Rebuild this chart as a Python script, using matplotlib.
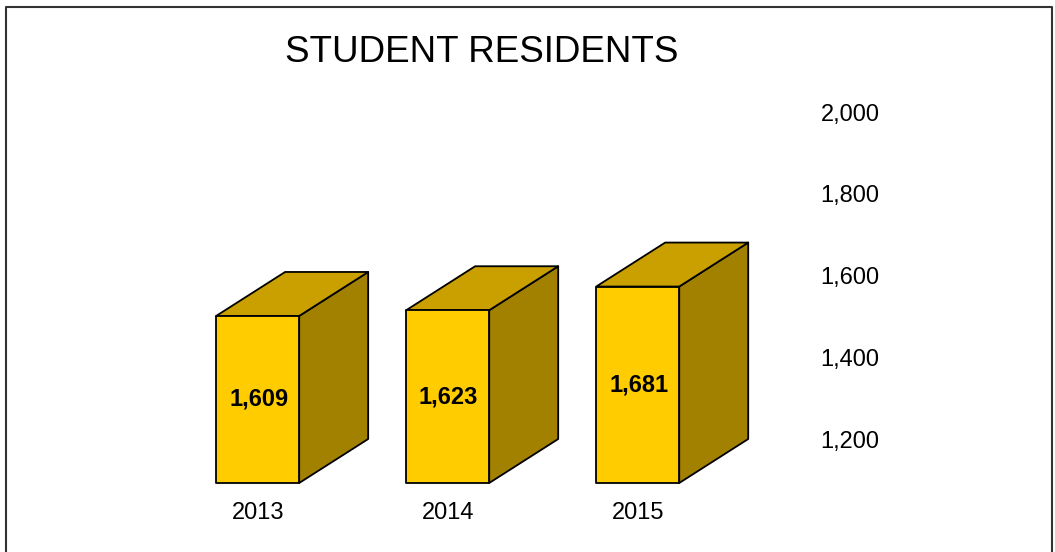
import matplotlib
matplotlib.use("Agg")
import matplotlib.pyplot as plt
from matplotlib.patches import Polygon
from matplotlib.lines import Line2D

plt.rcParams['font.family'] = ['Liberation Sans', 'DejaVu Sans']

#Chart values
years = ['2013', '2014', '2015']
residents = [1609, 1623, 1681]
tick_vals = [1200, 1400, 1600, 1800, 2000]
base = 1200

#Look of the 3D boxes
front_col = '#FFCC00'
top_col = '#C9A000'
side_col = '#A38100'
bar_w = 0.437          # width of the front face (category units)
depth_x = 0.363        # sideways shift of the back face
depth_y = 107.7        # upward shift of the back face (value units)

fig = plt.figure(figsize=(10.55, 5.52), dpi=100)
ax = fig.add_axes([0, 1 - 483/552, 815/1055, 483/552])
ax.set_xlim(-1.356, 2.933)
ax.set_ylim(base - depth_y, 2274.9)

for i, v in enumerate(residents):
    x0 = i - bar_w/2
    x1 = i + bar_w/2
    y0 = base - depth_y
    y1 = v - depth_y
    side = [(x1, y0), (x1 + depth_x, base), (x1 + depth_x, v), (x1, y1)]
    top = [(x0, y1), (x1, y1), (x1 + depth_x, v), (x0 + depth_x, v)]
    front = [(x0, y0), (x1, y0), (x1, y1), (x0, y1)]
    for pts, c in [(side, side_col), (top, top_col), (front, front_col)]:
        ax.add_patch(Polygon(pts, closed=True, facecolor=c, edgecolor='black',
                             linewidth=1.3, joinstyle='round', clip_on=False))
    ax.text(i + 0.005, (y0 + y1)/2, f"{v:,}", ha='center', va='center',
            fontsize=17, fontweight='bold', color='black')

ax.set_xticks(range(len(years)))
ax.set_xticklabels(years, fontsize=17)
ax.set_yticks(tick_vals)
ax.set_yticklabels([f"{t:,}" for t in tick_vals], fontsize=17)
ax.yaxis.tick_right()
ax.tick_params(axis='both', length=0)
ax.tick_params(axis='y', pad=4.0)
ax.tick_params(axis='x', pad=13.5)
for s in ax.spines.values():
    s.set_visible(False)
ax.patch.set_visible(False)

fig.text(482/1055, 1 - 52/552, "STUDENT RESIDENTS", ha='center', va='center',
         fontsize=26.5)

#Frame around the chart (left, top, right)
W, H = 1055, 552
fx = [5.5/W, 5.5/W, 1051.5/W, 1051.5/W]
fy = [0, 1 - 6.5/H, 1 - 6.5/H, 0]
fig.add_artist(Line2D(fx, fy, transform=fig.transFigure, color='#333333', linewidth=1.5))

fig.savefig("out.png", dpi=100)
